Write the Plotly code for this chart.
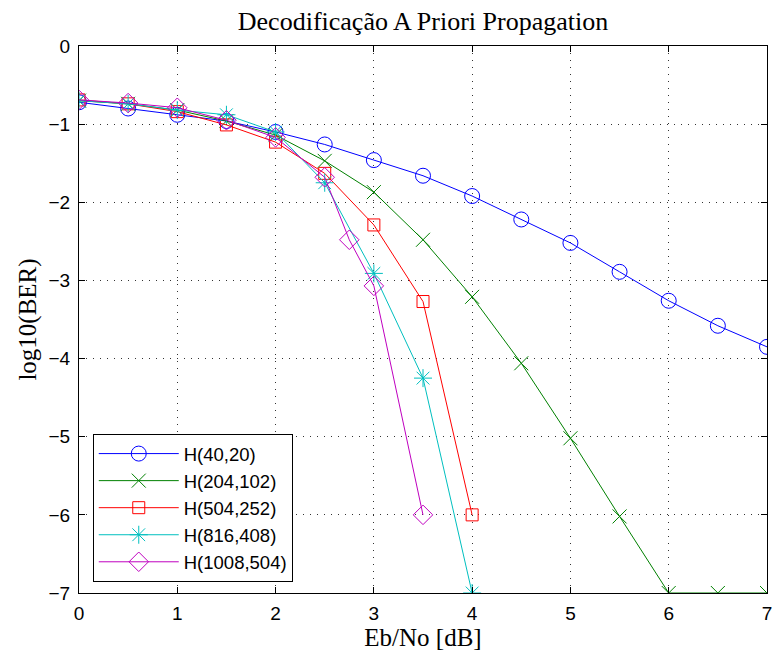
import plotly.graph_objects as go

x_std = [0, 0.5, 1, 1.5, 2, 2.5, 3, 3.5, 4, 4.5, 5, 5.5, 6, 6.5, 7]
y_40 = [-0.72, -0.80, -0.88, -0.96, -1.10, -1.26, -1.46, -1.66, -1.92, -2.22, -2.52, -2.89, -3.26, -3.58, -3.85]
y_204 = [-0.70, -0.74, -0.82, -0.96, -1.14, -1.47, -1.87, -2.48, -3.21, -4.06, -5.02, -6.02, -7.0, -7.0, -7.0]
x_504 = [0, 0.5, 1, 1.5, 2, 2.5, 3, 3.5, 4]
y_504 = [-0.69, -0.74, -0.84, -1.01, -1.23, -1.63, -2.29, -3.27, -6.0]
x_816 = [0, 0.5, 1, 1.5, 2, 2.5, 3, 3.5, 4]
y_816 = [-0.70, -0.74, -0.82, -0.88, -1.10, -1.75, -2.91, -4.25, -7.0]
x_1008 = [0, 0.5, 1, 1.5, 2, 2.5, 2.75, 3, 3.5]
y_1008 = [-0.69, -0.73, -0.79, -0.95, -1.17, -1.68, -2.48, -3.07, -6.0]

names = ["H(40,20)", "H(204,102)", "H(504,252)", "H(816,408)", "H(1008,504)"]
colors = ["#0000FF", "#008000", "#FF0000", "#00BFBF", "#BF00BF"]
symbols = ["circle-open", "x-thin-open", "square-open", "asterisk-open", "diamond-open"]
sizes = [15, 14, 12, 15, 15]

series = [(x_std, y_40), (x_std, y_204), (x_504, y_504), (x_816, y_816), (x_1008, y_1008)]

fig = go.Figure()
for (xs, ys), n, c, s, sz in zip(series, names, colors, symbols, sizes):
    fig.add_trace(go.Scatter(
        x=xs, y=ys, name=n, mode="lines+markers",
        line=dict(color=c, width=1),
        marker=dict(symbol=s, size=sz, color=c, line=dict(color=c, width=1)),
    ))

SANS = "Liberation Sans, Arial, sans-serif"
SERIF = "Liberation Serif, Times New Roman, serif"

axis_common = dict(
    showline=True, linecolor="black", linewidth=1, mirror="ticks",
    ticks="inside", ticklen=6, tickcolor="black",
    showgrid=True, gridcolor="#333333", griddash="1px,6px", gridwidth=1,
    zeroline=False,
    tickfont=dict(family=SANS, size=19, color="black"),
)

# page body has an 8px margin; figure sized so plot area lands at 79..772 x 46..593
W, H = 773, 643
fig.update_layout(
    width=W, height=H,
    margin=dict(l=71, r=9, t=38, b=58),
    paper_bgcolor="white", plot_bgcolor="white",
    title=dict(text="Decodificação A Priori Propagation", x=0.5, xref="paper", xanchor="center",
               y=1 - 13 / H, yanchor="middle",
               font=dict(family=SERIF, size=26, color="black")),
    xaxis=dict(range=[0, 7], dtick=1, ticklabelstandoff=3, **axis_common,
               title=dict(text="Eb/No [dB]", standoff=0,
                          font=dict(family=SERIF, size=25, color="black"))),
    yaxis=dict(range=[-7, 0], dtick=1, ticklabelstandoff=4, **axis_common,
               title=dict(text="log10(BER)", standoff=4,
                          font=dict(family=SERIF, size=25, color="black"))),
    legend=dict(x=0.02, y=0.02, xanchor="left", yanchor="bottom",
                bgcolor="white", bordercolor="black", borderwidth=1,
                font=dict(family=SANS, size=18.5, color="black"),
                itemwidth=80, tracegroupgap=0),
    showlegend=True,
)

fig.write_html("out.html")
